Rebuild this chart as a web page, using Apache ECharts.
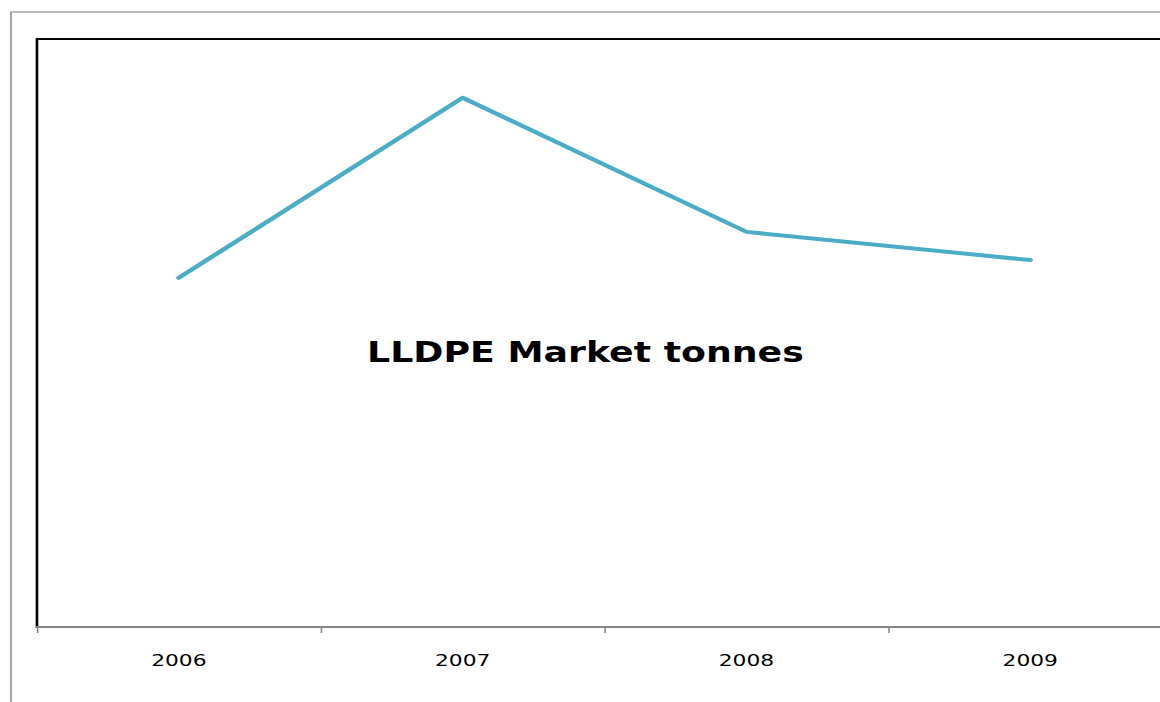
<!DOCTYPE html>
<html>
<head>
<meta charset="utf-8">
<title>LLDPE Market tonnes</title>
<script src="https://cdn.jsdelivr.net/npm/echarts@6/dist/echarts.min.js"></script>
<style>
  html, body { margin: 0; padding: 0; background: #ffffff; overflow: hidden; }
  /* the chart is laid out on a narrower canvas and widened; its right edge runs past the page */
  #chart { width: 900px; height: 702px; transform: scaleX(1.32); transform-origin: 0 0; }
</style>
</head>
<body>
<div id="chart"></div>
<script>
// LLDPE market volume by year (thousand tonnes)
const years = ['2006', '2007', '2008', '2009'];
const marketTonnes = [594, 900, 672, 624];
const titleText = 'LLDPE Market tonnes';

const chart = echarts.init(document.getElementById('chart'), null, { renderer: 'svg' });

chart.setOption({
  animation: false,
  backgroundColor: '#ffffff',
  graphic: [
    {
      // outer chart-area frame
      type: 'rect',
      silent: true,
      z: 0,
      shape: { x: 8.3, y: 12, width: 1200, height: 800 },
      style: { fill: 'none', stroke: '#a6a6a6', lineWidth: 1.6 }
    },
    {
      type: 'text',
      z: 10,
      x: 443.5,
      y: 353,
      style: {
        text: titleText,
        fontFamily: 'DejaVu Sans',
        fontWeight: 'bold',
        fontSize: 27.5,
        fill: '#000000',
        align: 'center',
        verticalAlign: 'middle'
      }
    }
  ],
  grid: {
    left: 28,
    top: 39,
    width: 860,
    height: 588,
    show: true,
    borderColor: '#000000',
    borderWidth: 2,
    backgroundColor: 'transparent'
  },
  xAxis: {
    type: 'category',
    data: years,
    boundaryGap: true,
    axisLine: { show: true, lineStyle: { color: '#868686', width: 2 } },
    axisTick: { show: true, length: 6, lineStyle: { color: '#868686', width: 1.2 } },
    axisLabel: {
      margin: 25,
      color: '#000000',
      fontFamily: 'DejaVu Sans',
      fontSize: 16.5
    },
    splitLine: { show: false }
  },
  yAxis: {
    type: 'value',
    min: 0,
    max: 1000,
    show: false,
    splitLine: { show: false }
  },
  series: [
    {
      type: 'line',
      data: marketTonnes,
      symbol: 'none',
      smooth: false,
      lineStyle: { color: '#4bacc6', width: 4, cap: 'round', join: 'round' },
      itemStyle: { color: '#4bacc6' }
    }
  ]
});
</script>
</body>
</html>
